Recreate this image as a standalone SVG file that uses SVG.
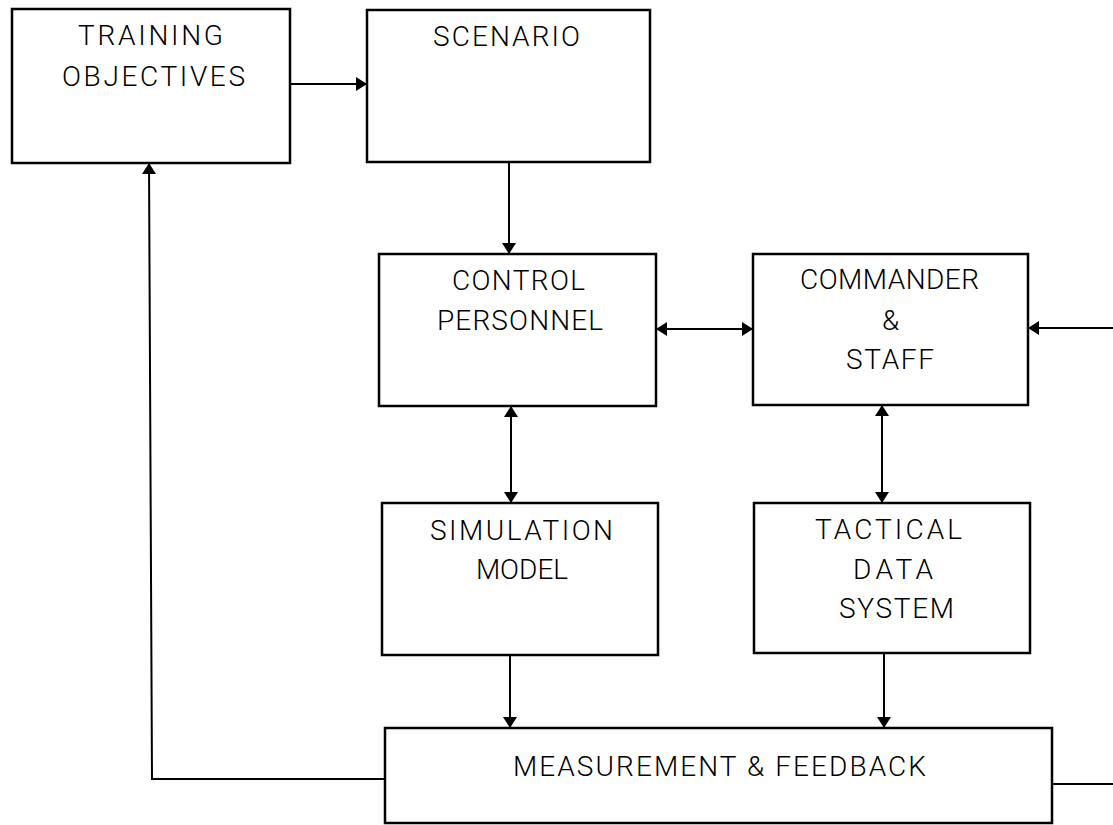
<svg xmlns="http://www.w3.org/2000/svg" width="1113" height="825" viewBox="0 0 1113 825">
<style>
.box{fill:#fff;stroke:#000;stroke-width:2.5}
.lbl{font-family:Roboto,"DejaVu Sans","Liberation Sans",sans-serif;font-weight:300;font-size:28px;fill:#000;text-anchor:middle}
.con{fill:none;stroke:#000;stroke-width:2}
</style>
<defs>
<marker id="ah" viewBox="0 0 11 14" refX="11" refY="7" markerWidth="11" markerHeight="14" markerUnits="userSpaceOnUse" orient="auto-start-reverse">
<path d="M0,0 L11,7 L0,14 Z" fill="#000"/>
</marker>
</defs>
<rect width="1113" height="825" fill="#fff"/>
<g id="connectors">
<line class="con" x1="290" y1="84" x2="367" y2="84" marker-end="url(#ah)"/>
<line class="con" x1="509" y1="162" x2="509" y2="254" marker-end="url(#ah)"/>
<line class="con" x1="656" y1="329" x2="753" y2="329" marker-start="url(#ah)" marker-end="url(#ah)"/>
<line class="con" x1="1113" y1="328" x2="1028" y2="328" marker-end="url(#ah)"/>
<line class="con" x1="511" y1="406" x2="511" y2="503" marker-start="url(#ah)" marker-end="url(#ah)"/>
<line class="con" x1="882" y1="405" x2="882" y2="503" marker-start="url(#ah)" marker-end="url(#ah)"/>
<line class="con" x1="510" y1="655" x2="510" y2="728" marker-end="url(#ah)"/>
<line class="con" x1="884" y1="653" x2="884" y2="728" marker-end="url(#ah)"/>
<polyline class="con" points="385,779 152,779 149,163" marker-end="url(#ah)"/>
<line class="con" x1="1052" y1="784" x2="1113" y2="784"/>
</g>
<g id="training-objectives">
<rect class="box" x="12" y="9" width="278" height="154"/>
<text class="lbl" x="150.5" y="45" textLength="145" lengthAdjust="spacing">TRAINING</text>
<text class="lbl" x="153.5" y="86" textLength="183" lengthAdjust="spacing">OBJECTIVES</text>
</g>
<g id="scenario">
<rect class="box" x="367" y="10" width="283" height="152"/>
<text class="lbl" x="506.5" y="46" textLength="147" lengthAdjust="spacing">SCENARIO</text>
</g>
<g id="control-personnel">
<rect class="box" x="379" y="254" width="277" height="152"/>
<text class="lbl" x="518.5" y="290" textLength="133" lengthAdjust="spacing">CONTROL</text>
<text class="lbl" x="520" y="330" textLength="166" lengthAdjust="spacing">PERSONNEL</text>
</g>
<g id="commander-staff">
<rect class="box" x="753" y="254" width="275" height="151"/>
<text class="lbl" x="889.5" y="289" textLength="179" lengthAdjust="spacing">COMMANDER</text>
<text class="lbl" x="890.5" y="330">&amp;</text>
<text class="lbl" x="890" y="369" textLength="88" lengthAdjust="spacing">STAFF</text>
</g>
<g id="simulation-model">
<rect class="box" x="382" y="503" width="276" height="152"/>
<text class="lbl" x="521.5" y="540" textLength="183" lengthAdjust="spacing">SIMULATION</text>
<text class="lbl" x="522" y="579">MODEL</text>
</g>
<g id="tactical-data-system">
<rect class="box" x="754" y="503" width="276" height="150"/>
<text class="lbl" x="888.5" y="539" textLength="147" lengthAdjust="spacing">TACTICAL</text>
<text class="lbl" x="893" y="579" textLength="80" lengthAdjust="spacing">DATA</text>
<text class="lbl" x="896.5" y="618" textLength="115" lengthAdjust="spacing">SYSTEM</text>
</g>
<g id="measurement-feedback">
<rect class="box" x="385" y="728" width="667" height="95"/>
<text class="lbl" x="719.5" y="776" textLength="413" lengthAdjust="spacing">MEASUREMENT &amp; FEEDBACK</text>
</g>
</svg>
